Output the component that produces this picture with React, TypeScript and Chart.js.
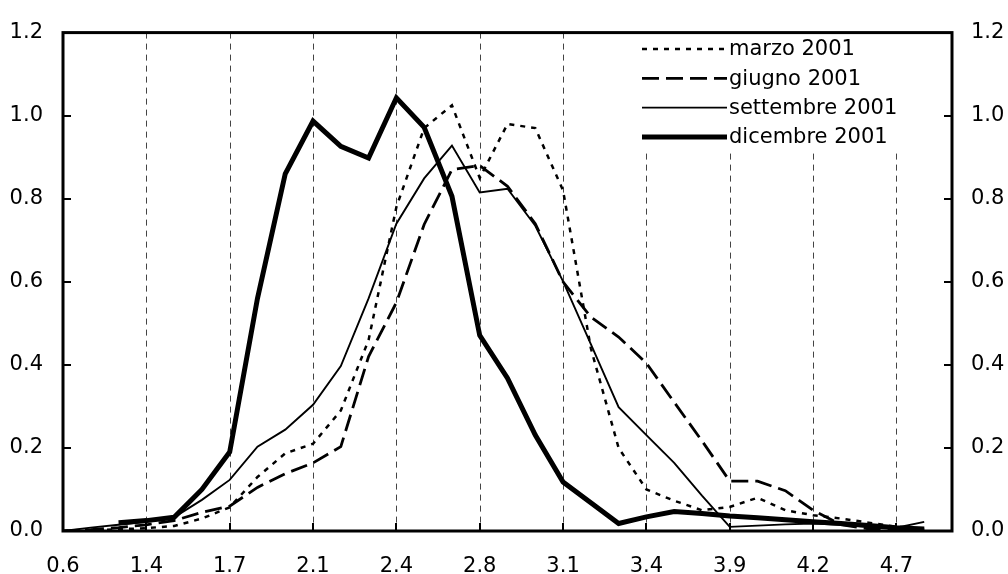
import React, { useEffect, useRef } from 'react';
import { Chart, registerables } from 'chart.js';

Chart.register(...registerables);

// Category labels (only every third one is shown on the axis)
const categories = [
  '0.6', '0.9', '1.1', '1.4', '1.5', '1.6', '1.7', '1.8', '2.0', '2.1', '2.2',
  '2.3', '2.4', '2.5', '2.7', '2.8', '2.9', '3.0', '3.1', '3.2', '3.3', '3.4',
  '3.6', '3.7', '3.9', '4.0', '4.1', '4.2', '4.4', '4.5', '4.7', '4.8', '4.9',
];
const labelEvery = 3;

const marzo2001 = [
  0, 0.002, 0.004, 0.007, 0.012, 0.03, 0.057, 0.13, 0.187, 0.21, 0.29,
  0.46, 0.78, 0.97, 1.025, 0.85, 0.98, 0.97, 0.82, 0.44, 0.2, 0.1,
  0.073, 0.05, 0.058, 0.08, 0.05, 0.038, 0.03, 0.02, 0.01, 0.005, null,
];
const giugno2001 = [
  0, 0.003, 0.008, 0.015, 0.025, 0.045, 0.06, 0.105, 0.138, 0.164, 0.203,
  0.42, 0.55, 0.738, 0.87, 0.88, 0.83, 0.74, 0.6, 0.515, 0.467, 0.404,
  0.31, 0.217, 0.12, 0.12, 0.097, 0.05, 0.015, 0.005, 0.003, 0.002, null,
];
const settembre2001 = [
  0, 0.008, 0.015, 0.022, 0.033, 0.075, 0.123, 0.203, 0.244, 0.304, 0.397,
  0.56, 0.74, 0.849, 0.928, 0.815, 0.824, 0.735, 0.601, 0.45, 0.298, 0.231,
  0.164, 0.085, 0.01, 0.013, 0.016, 0.018, 0.015, 0.01, 0.008, 0.022, null,
];
const dicembre2001 = [
  null, null, 0.02, 0.025, 0.033, 0.1, 0.19, 0.56, 0.86, 0.987, 0.926,
  0.898, 1.043, 0.972, 0.806, 0.471, 0.368, 0.231, 0.118, 0.068, 0.018, 0.034,
  0.047, 0.042, 0.036, 0.032, 0.027, 0.022, 0.018, 0.013, 0.008, 0.005, null,
];

const yMin = 0;
const yMax = 1.2;
const yStep = 0.2;

const FONT_FAMILY = '"DejaVu Sans", Verdana, sans-serif';
const FONT_SIZE = 21;

const seriesStyles = [
  { label: 'marzo 2001', data: marzo2001, width: 2.5, dash: [5, 6] },
  { label: 'giugno 2001', data: giugno2001, width: 2.8, dash: [17, 7] },
  { label: 'settembre 2001', data: settembre2001, width: 1.9, dash: [] as number[] },
  { label: 'dicembre 2001', data: dicembre2001, width: 5, dash: [] as number[] },
];

export default function App() {
  const ref = useRef<HTMLCanvasElement>(null);

  useEffect(() => {
    document.body.style.margin = '0';
    const canvas = ref.current;
    if (!canvas) return;

    const decor = {
      id: 'decor',
      beforeDatasetsDraw(chart: any) {
        const { ctx, chartArea } = chart;
        const xs = chart.scales.x;
        ctx.save();
        ctx.strokeStyle = '#444';
        ctx.lineWidth = 1;
        ctx.setLineDash([6, 5]);
        for (let i = labelEvery; i < categories.length - 1; i += labelEvery) {
          const px = Math.round(xs.getPixelForValue(i)) + 0.5;
          ctx.beginPath();
          ctx.moveTo(px, chartArea.top);
          ctx.lineTo(px, chartArea.bottom);
          ctx.stroke();
        }
        ctx.setLineDash([]);
        // legend background
        ctx.fillStyle = '#fff';
        ctx.fillRect(636, 31, 270, 121);
        ctx.restore();
      },
      afterDatasetsDraw(chart: any) {
        const { ctx, chartArea } = chart;
        const xs = chart.scales.x;
        const ys = chart.scales.y;
        const { left, right, top, bottom } = chartArea;
        ctx.save();
        // ticks (inside)
        ctx.strokeStyle = '#000';
        ctx.lineWidth = 2;
        for (let v = yMin + yStep; v < yMax - 1e-9; v += yStep) {
          const py = Math.round(ys.getPixelForValue(v));
          ctx.beginPath();
          ctx.moveTo(left, py);
          ctx.lineTo(left + 8, py);
          ctx.moveTo(right, py);
          ctx.lineTo(right - 8, py);
          ctx.stroke();
        }
        for (let i = labelEvery; i < categories.length - 1; i += labelEvery) {
          const px = Math.round(xs.getPixelForValue(i));
          ctx.beginPath();
          ctx.moveTo(px, bottom);
          ctx.lineTo(px, bottom - 8);
          ctx.stroke();
        }
        // frame
        ctx.lineWidth = 3;
        ctx.strokeRect(left, top, right - left, bottom - top);

        // legend
        ctx.font = `${FONT_SIZE}px ${FONT_FAMILY}`;
        ctx.textBaseline = 'middle';
        ctx.textAlign = 'left';
        ctx.fillStyle = '#000';
        seriesStyles.forEach((s, k) => {
          const y = 49 + k * 29.3;
          ctx.lineWidth = s.width;
          ctx.setLineDash(s.dash);
          ctx.lineCap = 'butt';
          ctx.beginPath();
          ctx.moveTo(642, y);
          ctx.lineTo(727, y);
          ctx.stroke();
          ctx.setLineDash([]);
          ctx.fillText(s.label, 729, y + 1);
        });
        ctx.restore();
      },
    };

    const tickFont = { family: FONT_FAMILY, size: FONT_SIZE };

    const chart = new Chart(canvas, {
      type: 'line',
      data: {
        labels: categories,
        datasets: seriesStyles.map((s, k) => ({
          label: s.label,
          data: s.data,
          borderColor: '#000',
          backgroundColor: '#000',
          borderWidth: s.width,
          borderDash: s.dash,
          borderCapStyle: 'butt',
          borderJoinStyle: 'miter',
          pointRadius: 0,
          pointHoverRadius: 0,
          tension: 0,
          fill: false,
          spanGaps: false,
          order: seriesStyles.length - k,
          yAxisID: 'y',
        })),
      },
      options: {
        animation: false,
        responsive: false,
        devicePixelRatio: 1,
        layout: { padding: { top: 23, left: 0, right: 0, bottom: 0 } },
        plugins: {
          legend: { display: false },
          tooltip: { enabled: false },
        },
        scales: {
          x: {
            type: 'category',
            offset: false,
            grid: { display: false, drawTicks: false },
            border: { display: false },
            ticks: {
              autoSkip: false,
              maxRotation: 0,
              minRotation: 0,
              color: '#000',
              font: tickFont,
              padding: 23,
              callback: (_v: any, i: number) => (i % labelEvery === 0 ? categories[i] : ''),
            },
            afterFit: (s: any) => {
              s.height = 43;
            },
          },
          y: {
            position: 'left',
            min: yMin,
            max: yMax,
            grid: { display: false, drawTicks: false },
            border: { display: false },
            ticks: {
              stepSize: yStep,
              color: '#000',
              font: tickFont,
              padding: 20,
              callback: (v: any) => Number(v).toFixed(1),
            },
            afterFit: (s: any) => {
              s.width = 63;
            },
          },
          y2: {
            position: 'right',
            min: yMin,
            max: yMax,
            grid: { display: false, drawTicks: false },
            border: { display: false },
            ticks: {
              stepSize: yStep,
              color: '#000',
              font: tickFont,
              padding: 19,
              callback: (v: any) => Number(v).toFixed(1),
            },
            afterFit: (s: any) => {
              s.width = 56;
            },
          },
        },
      },
      plugins: [decor],
    } as any);

    return () => chart.destroy();
  }, []);

  return (
    <div style={{ width: 1008, height: 574 }}>
      <canvas ref={ref} width={1008} height={574} />
    </div>
  );
}
